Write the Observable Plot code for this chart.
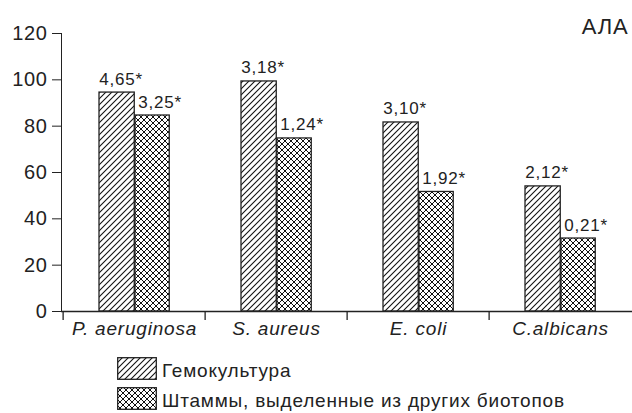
<!DOCTYPE html>
<html>
<head>
<meta charset="utf-8">
<script src="https://cdn.jsdelivr.net/npm/d3@7"></script>
<script src="https://cdn.jsdelivr.net/npm/@observablehq/plot@0.6"></script>
<style>
  body { margin: 0; background: #fff; font-family: "Liberation Sans", Arial, sans-serif; color: #222; }
  #defs { position: absolute; width: 0; height: 0; }
  #chart svg text { letter-spacing: 0.8px; }
  #chart svg g[aria-label="y-axis tick label"] text { font-size: 20px !important; letter-spacing: 0.6px; }
  #legend { margin-left: 117px; margin-top: 12px; }
  .row { display: flex; align-items: center; height: 23px; margin-bottom: 7px; }
  .row span { margin-left: 5px; font-size: 19px; line-height: 23px; letter-spacing: 0.8px; padding-top: 3px; }
</style>
</head>
<body>
<svg id="defs" aria-hidden="true">
  <defs>
    <pattern id="hatch" patternUnits="userSpaceOnUse" width="6" height="6">
      <rect width="6" height="6" fill="#fff"/>
      <path d="M0,6 L6,0 M-1,1 L1,-1 M5,7 L7,5" stroke="#111" stroke-width="1.1"/>
    </pattern>
    <pattern id="cross" patternUnits="userSpaceOnUse" width="6" height="6">
      <rect width="6" height="6" fill="#fff"/>
      <path d="M0,6 L6,0 M-1,1 L1,-1 M5,7 L7,5 M0,0 L6,6 M-1,5 L1,7 M5,-1 L7,1" stroke="#111" stroke-width="1"/>
    </pattern>
  </defs>
</svg>
<div id="chart"></div>
<div id="legend"></div>
<script>
const categories = ["P. aeruginosa", "S. aureus", "E. coli", "C.albicans"];
const hemoValues = [94.5, 99.3, 81.6, 54];
const otherValues = [84.6, 74.7, 51.6, 31.5];
const hemoLabels = ["4,65*", "3,18*", "3,10*", "2,12*"];
const otherLabels = ["3,25*", "1,24*", "1,92*", "0,21*"];
const yTicks = [0, 20, 40, 60, 80, 100, 120];
const seriesNames = ["Гемокультура", "Штаммы, выделенные из других биотопов"];
const panelLabel = "АЛА";

const rows = categories.map((c, i) => ({
  category: c, hemo: hemoValues[i], other: otherValues[i],
  hemoLabel: hemoLabels[i], otherLabel: otherLabels[i]
}));

const W = 632, ML = 61, MR = 0;
const band = (W - ML - MR) / categories.length;
const half = band / 2;

const plot = Plot.plot({
  width: W, height: 345,
  marginLeft: ML, marginRight: MR, marginTop: 33, marginBottom: 34,
  style: { fontFamily: "Liberation Sans, Arial, sans-serif", fontSize: "20px", color: "#222", background: "#fff" },
  x: { domain: categories, padding: 0, axis: null },
  y: { domain: [0, 120], ticks: yTicks, tickSize: 9, tickPadding: 5, line: true, label: null },
  marks: [
    Plot.barY(rows, { x: "category", y: "hemo", fill: "url(#hatch)", stroke: "#222", strokeWidth: 1.3, insetLeft: 36, insetRight: band - 72 }),
    Plot.barY(rows, { x: "category", y: "other", fill: "url(#cross)", stroke: "#222", strokeWidth: 1.3, insetLeft: 72, insetRight: band - 107 }),
    Plot.ruleY([0], { stroke: "#222", strokeWidth: 1.3 }),
    Plot.ruleX(categories, { x: d => d, dx: -half, insetTop: 278, insetBottom: -9, stroke: "#222", strokeWidth: 1.3 }),
    Plot.text(rows, { x: "category", y: "hemo", text: "hemoLabel", dx: 36 - half, dy: -8, textAnchor: "start", lineAnchor: "bottom", fontSize: 17, fill: "#222" }),
    Plot.text(rows, { x: "category", y: "other", text: "otherLabel", dx: 75 - half, dy: -8, textAnchor: "start", lineAnchor: "bottom", fontSize: 17, fill: "#222" }),
    Plot.text(categories, { x: d => d, y: 0, text: d => d, dy: 10, lineAnchor: "top", fontStyle: "italic", fontSize: 19, fill: "#222" }),
    Plot.text([panelLabel], { frameAnchor: "top-right", textAnchor: "end", lineAnchor: "bottom", dx: -4, dy: 0, fontSize: 22, fill: "#222" })
  ]
});
document.getElementById("chart").appendChild(plot);

const legend = d3.select("#legend");
const fills = ["url(#hatch)", "url(#cross)"];
seriesNames.forEach((name, i) => {
  const row = legend.append("div").attr("class", "row");
  const sw = row.append("svg").attr("width", 40).attr("height", 23);
  sw.append("rect").attr("x", 0.7).attr("y", 0.7).attr("width", 38.6).attr("height", 21.6)
    .attr("fill", fills[i]).attr("stroke", "#222").attr("stroke-width", 1.3);
  row.append("span").text(name);
});
</script>
</body>
</html>
